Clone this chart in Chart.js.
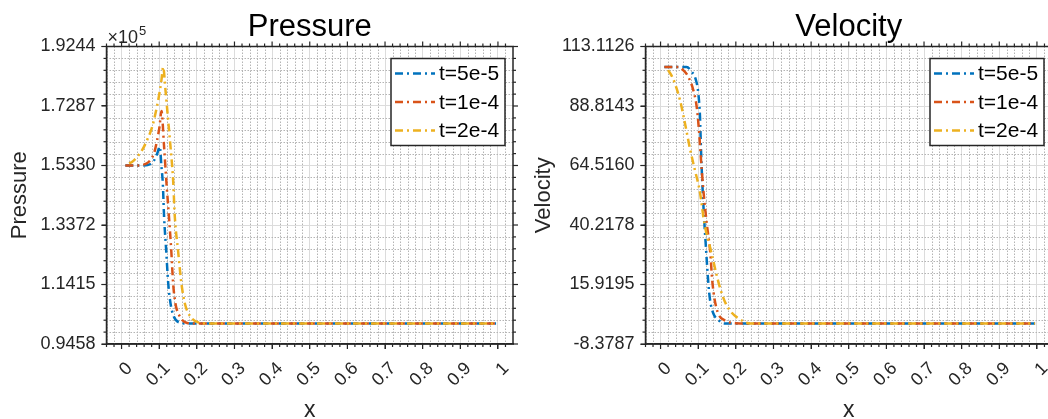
<!DOCTYPE html>
<html>
<head>
<meta charset="utf-8">
<script src="https://cdn.jsdelivr.net/npm/chart.js@4.4.1/dist/chart.umd.min.js"></script>
<style>
    html, body { margin: 0; padding: 0; background: #fff; overflow: hidden; width: 1048px; height: 419px; }
    #pressureChart { position: absolute; left: 0; top: 0; }
    #velocityChart { position: absolute; left: 524px; top: 0; }
</style>
</head>
<body>
<canvas id="pressureChart" width="524" height="419"></canvas>
<canvas id="velocityChart" width="540" height="419"></canvas>
<script>
const seriesNames = ['t=5e-5', 't=1e-4', 't=2e-4'];
const seriesColors = ['#0072BD', '#D95319', '#EDB120'];

const xTicks = [0, 0.1, 0.2, 0.3, 0.4, 0.5, 0.6, 0.7, 0.8, 0.9, 1];
const pressureTicks = [0.9458, 1.1415, 1.3372, 1.5330, 1.7287, 1.9244]; // x 1e5
const velocityTicks = [-8.3787, 15.9195, 40.2178, 64.5160, 88.8143, 113.1126];

// Pressure (x 1e5)
const pX1 = [0.01, 0.059, 0.077, 0.086, 0.095, 0.1016, 0.106, 0.1096, 0.113, 0.1185, 0.124, 0.130, 0.1388, 0.1547, 0.17, 0.995];
const pY1 = [1.533, 1.533, 1.538, 1.549, 1.573, 1.595, 1.529, 1.474, 1.364, 1.255, 1.1455, 1.080, 1.036, 1.016, 1.0133, 1.0133];
const pX2 = [0.01, 0.046, 0.0637, 0.0769, 0.0875, 0.0946, 0.1008, 0.1061, 0.1127, 0.1194, 0.126, 0.132, 0.137, 0.143, 0.155, 0.174, 0.19, 0.995];
const pY2 = [1.533, 1.533, 1.538, 1.551, 1.578, 1.617, 1.660, 1.712, 1.600, 1.474, 1.364, 1.255, 1.1455, 1.080, 1.036, 1.015, 1.0133, 1.0133];
const pX3 = [0.02, 0.0284, 0.0416, 0.0549, 0.068, 0.0814, 0.0902, 0.099, 0.106, 0.1105, 0.1167, 0.123, 0.130, 0.137, 0.1415, 0.150, 0.159, 0.168, 0.183, 0.2095, 0.23, 0.995];
const pY3 = [1.540, 1.545, 1.562, 1.584, 1.617, 1.660, 1.705, 1.759, 1.814, 1.857, 1.781, 1.693, 1.595, 1.485, 1.364, 1.255, 1.1455, 1.080, 1.036, 1.015, 1.0133, 1.0133];

// Velocity
const vX1 = [0.01, 0.069, 0.0827, 0.094, 0.1003, 0.1048, 0.1075, 0.111, 0.1155, 0.121, 0.127, 0.1315, 0.140, 0.1537, 0.169, 0.995];
const vY1 = [104.73, 104.73, 102.8, 99.4, 94.0, 84.4, 70.8, 57.2, 43.6, 30.0, 16.4, 9.6, 4.16, 1.42, 0, 0];
const vX2 = [0.01, 0.047, 0.060, 0.0736, 0.087, 0.096, 0.102, 0.1075, 0.1137, 0.1227, 0.1315, 0.138, 0.149, 0.1688, 0.2115, 0.995];
const vY2 = [104.73, 104.73, 103.5, 100.8, 95.3, 88.5, 79.0, 66.8, 54.5, 40.9, 30.0, 16.4, 6.0, 1.42, 0, 0];
const vX3 = [0.02, 0.03, 0.038, 0.0515, 0.0648, 0.078, 0.0915, 0.103, 0.110, 0.1136, 0.121, 0.129, 0.138, 0.147, 0.160, 0.173, 0.188, 0.204, 0.239, 0.995];
const vY3 = [103.5, 101.0, 98.1, 91.3, 81.8, 71.5, 62.5, 55.0, 48.0, 43.6, 37.5, 32.7, 27.0, 21.0, 13.5, 8.2, 4.6, 2.4, 0, 0];

const FONT = '"Liberation Sans", Arial, Helvetica, sans-serif';
const INK = '#262626';
const DASH = [8, 4, 2, 4];

function points(xs, ys) {
    return xs.map((x, i) => ({ x: x, y: ys[i] }));
}

function minorValues(ticks, n, lo, hi) {
    const step = (ticks[1] - ticks[0]) / n;
    const out = [];
    for (let v = ticks[0] - step * n; v <= ticks[ticks.length - 1] + step * n + 1e-9; v += step) {
        const isMajor = ticks.some(t => Math.abs(t - v) < step / 10);
        if (!isMajor && v > lo && v < hi) out.push(v);
    }
    return out;
}

// MATLAB-ish box: minor dotted grid, mirrored ticks, title, legend
const matlabBox = {
    id: 'matlabBox',
    beforeDatasetsDraw(chart, args, opts) {
        const { ctx, chartArea: a, scales } = chart;
        ctx.save();
        ctx.strokeStyle = '#b4b4b4';
        ctx.lineWidth = 1;
        ctx.setLineDash([1.5, 1.5]);
        minorValues(xTicks, 5, scales.x.min, scales.x.max).forEach(v => {
            const px = Math.round(scales.x.getPixelForValue(v)) + 0.5;
            ctx.beginPath(); ctx.moveTo(px, a.top); ctx.lineTo(px, a.bottom); ctx.stroke();
        });
        minorValues(opts.yTicks, 5, scales.y.min, scales.y.max).forEach(v => {
            const py = Math.round(scales.y.getPixelForValue(v)) + 0.5;
            ctx.beginPath(); ctx.moveTo(a.left, py); ctx.lineTo(a.right, py); ctx.stroke();
        });
        ctx.restore();
    },
    afterDraw(chart, args, opts) {
        const { ctx, chartArea: a, scales } = chart;
        ctx.save();
        ctx.strokeStyle = INK;
        ctx.lineWidth = 1.5;
        ctx.strokeRect(a.left, a.top, a.right - a.left, a.bottom - a.top);

        // ticks on all four sides, pointing out
        ctx.lineWidth = 1.2;
        const tickX = (v, len) => {
            const px = scales.x.getPixelForValue(v);
            ctx.beginPath(); ctx.moveTo(px, a.top); ctx.lineTo(px, a.top - len); ctx.stroke();
            ctx.beginPath(); ctx.moveTo(px, a.bottom); ctx.lineTo(px, a.bottom + len); ctx.stroke();
        };
        const tickY = (v, len) => {
            const py = scales.y.getPixelForValue(v);
            ctx.beginPath(); ctx.moveTo(a.left, py); ctx.lineTo(a.left - len, py); ctx.stroke();
            ctx.beginPath(); ctx.moveTo(a.right, py); ctx.lineTo(a.right + len, py); ctx.stroke();
        };
        xTicks.forEach(v => tickX(v, 5));
        minorValues(xTicks, 5, scales.x.min, scales.x.max).forEach(v => tickX(v, 3));
        opts.yTicks.forEach(v => tickY(v, 5));
        minorValues(opts.yTicks, 5, scales.y.min, scales.y.max).forEach(v => tickY(v, 3));

        // title
        ctx.fillStyle = '#000';
        ctx.textAlign = 'center';
        ctx.textBaseline = 'alphabetic';
        ctx.font = `31px ${FONT}`;
        ctx.fillText(opts.title, (a.left + a.right) / 2, 36);

        if (opts.exponent) {
            ctx.fillStyle = INK;
            ctx.textAlign = 'left';
            ctx.font = `18px ${FONT}`;
            ctx.fillText('\u00d710', a.left + 1, 43);
            const w = ctx.measureText('\u00d710').width;
            ctx.font = `13px ${FONT}`;
            ctx.fillText(opts.exponent, a.left + 2 + w, 35);
        }

        // legend
        const bw = 114, bh = 87;
        const bx = a.right - 8 - bw, by = a.top + 12;
        ctx.fillStyle = '#fff';
        ctx.fillRect(bx, by, bw, bh);
        ctx.strokeStyle = INK;
        ctx.lineWidth = 1.5;
        ctx.strokeRect(bx, by, bw, bh);
        ctx.font = `21px ${FONT}`;
        ctx.textBaseline = 'middle';
        ctx.textAlign = 'left';
        seriesNames.forEach((name, i) => {
            const ry = by + 15 + i * 28.5;
            ctx.strokeStyle = seriesColors[i];
            ctx.lineWidth = 2.5;
            ctx.setLineDash(DASH);
            ctx.beginPath(); ctx.moveTo(bx + 4, ry); ctx.lineTo(bx + 44, ry); ctx.stroke();
            ctx.setLineDash([]);
            ctx.fillStyle = '#000';
            ctx.fillText(name, bx + 48, ry + 1);
        });
        ctx.restore();
    }
};

function makeChart(canvasId, cfg) {
    const ctx = document.getElementById(canvasId).getContext('2d');
    const datasets = cfg.series.map((s, i) => ({
        label: seriesNames[i],
        data: points(s[0], s[1]),
        borderColor: seriesColors[i],
        borderWidth: 2.5,
        borderDash: DASH,
        pointRadius: 0,
        fill: false,
        cubicInterpolationMode: 'monotone',
        order: cfg.series.length - 1 - i
    }));

    return new Chart(ctx, {
        type: 'line',
        data: { datasets: datasets },
        plugins: [matlabBox],
        options: {
            responsive: false,
            animation: false,
            devicePixelRatio: 1,
            layout: { padding: { left: 0, top: 46.5, right: cfg.padRight, bottom: 0 } },
            plugins: {
                legend: { display: false },
                tooltip: { enabled: false },
                matlabBox: { title: cfg.title, yTicks: cfg.yTicks, exponent: cfg.exponent }
            },
            scales: {
                x: {
                    type: 'linear',
                    min: -0.04,
                    max: 1.04,
                    afterBuildTicks: s => { s.ticks = xTicks.map(v => ({ value: v })); },
                    afterFit: s => { s.height = 75; },
                    ticks: {
                        autoSkip: false, minRotation: 45, maxRotation: 45,
                        color: INK, font: { family: FONT, size: 18 }, padding: 9, labelOffset: 8,
                        callback: v => String(v)
                    },
                    grid: { color: '#dcdcdc', tickColor: INK, tickLength: 5 },
                    border: { color: INK, width: 1.5 },
                    title: { display: true, text: 'x', color: INK, font: { family: FONT, size: 23 }, padding: { top: 0, bottom: -5 } }
                },
                y: {
                    type: 'linear',
                    min: cfg.yTicks[0],
                    max: cfg.yTicks[cfg.yTicks.length - 1],
                    afterBuildTicks: s => { s.ticks = cfg.yTicks.map(v => ({ value: v })); },
                    afterFit: s => { s.width = cfg.yWidth; },
                    ticks: {
                        color: INK, font: { family: FONT, size: 18 }, padding: 6,
                        callback: v => v.toFixed(4)
                    },
                    grid: { color: '#dcdcdc', tickColor: INK, tickLength: 5 },
                    border: { color: INK, width: 1.5 },
                    title: { display: true, text: cfg.yLabel, color: INK, font: { family: FONT, size: 22 }, padding: { top: 7, bottom: 0 } }
                }
            }
        }
    });
}

makeChart('pressureChart', {
    title: 'Pressure',
    yLabel: 'Pressure',
    yTicks: pressureTicks,
    exponent: '5',
    yWidth: 106.5,
    padRight: 11,
    series: [[pX1, pY1], [pX2, pY2], [pX3, pY3]]
});

makeChart('velocityChart', {
    title: 'Velocity',
    yLabel: 'Velocity',
    yTicks: velocityTicks,
    exponent: null,
    yWidth: 121.5,
    padRight: 12,
    series: [[vX1, vY1], [vX2, vY2], [vX3, vY3]]
});
</script>
</body>
</html>
